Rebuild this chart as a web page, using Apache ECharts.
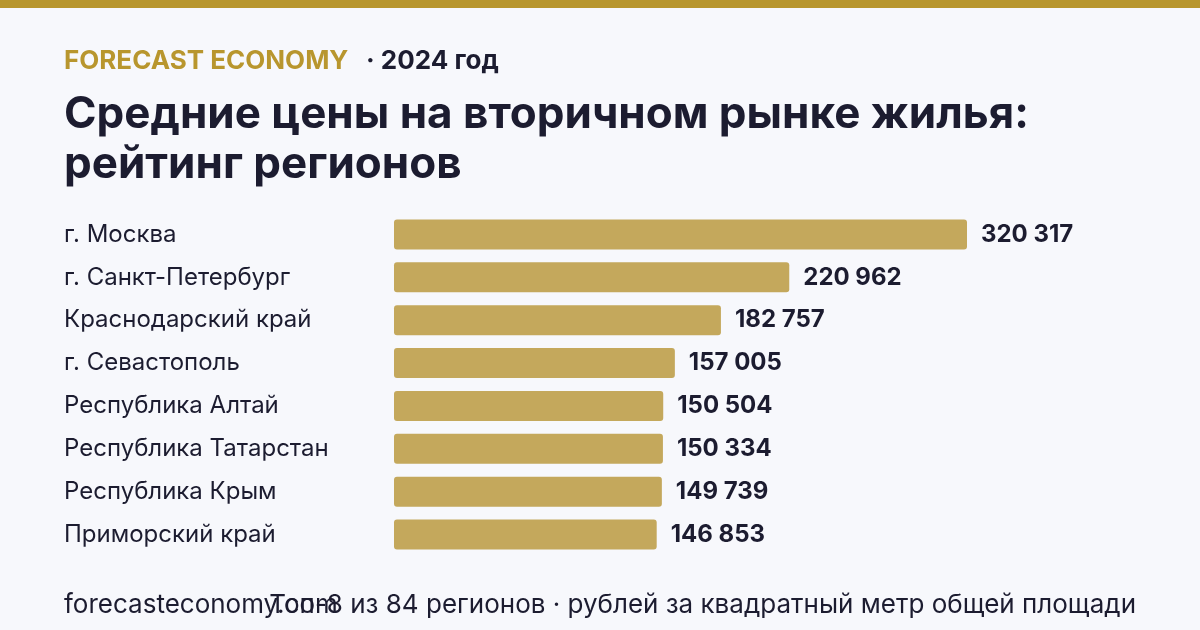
<!DOCTYPE html>
<html>
<head>
<meta charset="utf-8">
<script src="https://cdn.jsdelivr.net/npm/echarts@6/dist/echarts.min.js"></script>
<style>
  html, body { margin: 0; padding: 0; background: #f7f8fc; }
  #main { width: 1200px; height: 630px; }
</style>
</head>
<body>
<div id="main"></div>
<script>
// регионы и цены (руб. за кв. м)
var regions = ['г. Москва', 'г. Санкт-Петербург', 'Краснодарский край', 'г. Севастополь',
  'Республика Алтай', 'Республика Татарстан', 'Республика Крым', 'Приморский край'];
var prices = [320317, 220962, 182757, 157005, 150504, 150334, 149739, 146853];

var gold = '#b8962e';
var ink = '#1c1c30';
var font = 'Inter';

var myChart = echarts.init(document.getElementById('main'));

function fmt(v) {
  return String(v).replace(/\B(?=(\d{3})+(?!\d))/g, ' ');
}

var option = {
  backgroundColor: '#f7f8fc',
  textStyle: { fontFamily: font },
  grid: { left: 394, right: 233, top: 213, height: 343 },
  xAxis: {
    type: 'value', min: 0, max: 320317,
    show: false
  },
  yAxis: {
    type: 'category',
    data: regions,
    inverse: true,
    axisLine: { show: false },
    axisTick: { show: false },
    axisLabel: {
      align: 'left', margin: 330, padding: [4, 0, 0, 0],
      color: ink, fontSize: 24, fontFamily: font
    }
  },
  series: [{
    type: 'bar',
    data: prices,
    barWidth: 30,
    itemStyle: { color: '#c4a85c', borderRadius: 3 },
    label: {
      show: true, position: 'right', distance: 14, padding: [4, 0, 0, 0],
      color: ink, fontSize: 24, fontWeight: 'bold', fontFamily: font,
      formatter: function (p) { return fmt(p.value); }
    }
  }],
  graphic: [
    { type: 'rect', left: 0, top: 0, shape: { width: 1200, height: 8 }, style: { fill: gold } },
    { type: 'text', left: 64, top: 48, style: { text: 'FORECAST ECONOMY', fill: gold, font: 'bold 26px Inter' } },
    { type: 'text', left: 366, top: 48, style: { text: '· 2024 год', fill: ink, font: 'bold 26px Inter' } },
    { type: 'text', left: 64, top: 90, style: { text: 'Средние цены на вторичном рынке жилья:\nрейтинг регионов', fill: ink, font: 'bold 44px Inter', lineHeight: 50 } },
    { type: 'text', left: 64, top: 592, style: { text: 'forecasteconomy.com', fill: ink, font: '26px Inter' } },
    { type: 'text', right: 64, top: 592, style: { text: 'Топ-8 из 84 регионов · рублей за квадратный метр общей площади', fill: ink, font: '26px Inter' } }
  ]
};

myChart.setOption(option);
</script>
</body>
</html>
